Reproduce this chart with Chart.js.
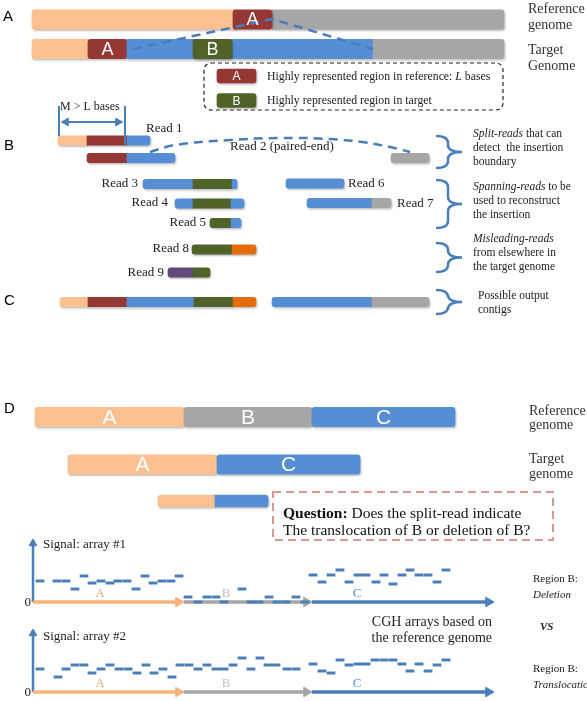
<!DOCTYPE html>
<html>
<head>
<meta charset="utf-8">
<script src="https://cdn.jsdelivr.net/npm/chart.js@4.4.1/dist/chart.umd.min.js"></script>
<style>
  html, body { margin: 0; padding: 0; background: #fff; }
  #wrap { width: 587px; height: 701px; }
</style>
</head>
<body>
<div id="wrap"><canvas id="fig" width="587" height="701"></canvas></div>
<script>
// ---------- data: segments are [start, end, region, label] along the genome axis ----------
const refGenome = [[32, 236, 'flank'], [272, 504, 'tail'], [233, 272, 'A', 'A']];
const targetGenome = [[32, 88, 'flank'], [88, 127, 'A', 'A'], [127, 373, 'ins'], [373, 504, 'tail'], [193, 232, 'B', 'B']];
const legendA = [[217, 256, 'A', 'A']];
const legendB = [[217, 256, 'B', 'B']];

const read1 = [[58, 87, 'flank'], [87, 127, 'A'], [127, 150, 'ins']];
const read2 = [[87, 127, 'A'], [127, 175, 'ins']];
const read2Mate = [[391, 429, 'tail']];
const read3 = [[143, 193, 'ins'], [193, 232, 'B'], [232, 237, 'ins']];
const read4 = [[175, 193, 'ins'], [193, 231, 'B'], [231, 244, 'ins']];
const read5 = [[210, 231, 'B'], [231, 241, 'ins']];
const read6 = [[286, 344, 'ins']];
const read7 = [[307, 372, 'ins'], [372, 391, 'tail']];
const read8 = [[192, 232, 'B'], [232, 256, 'other']];
const read9 = [[168, 193, 'alt'], [193, 210, 'B']];
const contigLeft = [[60, 88, 'flank'], [88, 127, 'A'], [127, 194, 'ins'], [194, 233, 'B'], [233, 256, 'other']];
const contigRight = [[272, 372, 'ins'], [372, 429, 'tail']];

const dRefGenome = [[35, 184, 'flank', 'A'], [184, 312, 'tail', 'B'], [312, 455, 'ins', 'C']];
const dTargetGenome = [[68, 217, 'flank', 'A'], [217, 360, 'ins', 'C']];
const dSplitRead = [[158, 215, 'flank'], [215, 268, 'ins']];

// CGH probes: position along the reference and signal level
const array1X = [40, 57, 66, 75, 84, 92, 101, 110, 118, 127, 136, 145, 153, 162, 171, 179,
  188, 198, 207, 216, 224, 242, 251, 259, 269, 277, 286, 296, 305,
  313, 322, 331, 340, 349, 358, 366, 376, 384, 393, 402, 410, 419, 428, 437, 446];
const array1Y = [581, 581, 581, 589, 576, 583, 581, 583, 581, 581, 589, 576, 583, 581, 581, 576,
  597, 602, 597, 597, 602, 589, 602, 602, 597, 602, 602, 597, 602,
  575, 582, 575, 570, 582, 575, 575, 582, 575, 584, 575, 570, 575, 575, 582, 570];
const array2X = [40, 58, 66, 75, 84, 92, 101, 110, 119, 128, 137, 146, 154, 163, 172, 180,
  189, 198, 207, 216, 224, 233, 242, 251, 260, 268, 276, 287, 296,
  313, 322, 331, 340, 349, 358, 366, 375, 384, 393, 402, 410, 419, 428, 437, 446];
const array2Y = [669, 677, 669, 665, 665, 673, 669, 665, 669, 669, 673, 665, 673, 669, 677, 665,
  665, 669, 665, 669, 669, 665, 658, 669, 658, 665, 665, 669, 669,
  664, 671, 673, 660, 665, 664, 664, 660, 660, 660, 664, 671, 664, 671, 665, 660];

// genome axes under each array: [start, tip, region]
const axisSegments = [[33, 184, 'flank'], [184, 312, 'tail'], [312, 494, 'ins']];

// dashed connectors
const insertionTent = [{x: 133, y: 49}, {x: 272, y: 19}, {x: 373, y: 49}];
const pairedArc = [{x: 150, y: 152}, {x: 175, y: 145}, {x: 230, y: 140}, {x: 280, y: 138},
  {x: 330, y: 139}, {x: 362, y: 142}, {x: 390, y: 147}, {x: 410, y: 152}];

// braces on the right: [top, bottom]
const braces = [[136, 168], [180, 228], [243, 272], [290, 314]];

// ---------- styles / layout ----------
const W = 587, H = 701;
const SERIF = '"Liberation Serif", "Times New Roman", serif';
const SANS = '"Liberation Sans", Arial, sans-serif';
const COLORS = {
  flank: '#FAC090', A: '#953735', tail: '#A6A6A6', ins: '#558ED5',
  B: '#4F6228', other: '#E46C0A', alt: '#604A7B'
};
const AXIS_COLORS = { flank: '#F7B27A', tail: '#A6A6A6', ins: '#4A7EBB' };
const LINE_BLUE = '#4A7EBB';

const rows = [
  { segs: refGenome, y: 19.5, axis: 'yBig' },
  { segs: targetGenome, y: 49, axis: 'yBig' },
  { segs: dRefGenome, y: 417, axis: 'yBig' },
  { segs: dTargetGenome, y: 464.5, axis: 'yBig' },
  { segs: legendA, y: 76, axis: 'ySwatch' },
  { segs: legendB, y: 100.5, axis: 'ySwatch' },
  { segs: read1, y: 140.5, axis: 'yRead' },
  { segs: read2, y: 158, axis: 'yRead' },
  { segs: read2Mate, y: 158, axis: 'yRead' },
  { segs: read3, y: 184, axis: 'yRead' },
  { segs: read4, y: 203.5, axis: 'yRead' },
  { segs: read5, y: 223, axis: 'yRead' },
  { segs: read6, y: 183.5, axis: 'yRead' },
  { segs: read7, y: 203, axis: 'yRead' },
  { segs: read8, y: 249.5, axis: 'yRead' },
  { segs: read9, y: 272.5, axis: 'yRead' },
  { segs: contigLeft, y: 302, axis: 'yRead' },
  { segs: contigRight, y: 302, axis: 'yRead' },
  { segs: dSplitRead, y: 501, axis: 'ySplit' }
];
const THICKNESS = { yBig: 19.5, ySwatch: 14, yRead: 9.5, ySplit: 12 };
const R = 3;

function barDataset(axis) {
  const data = [], colors = [], radii = [];
  rows.filter(r => r.axis === axis).forEach(row => {
    const lo = Math.min(...row.segs.map(s => s[0]));
    const hi = Math.max(...row.segs.map(s => s[1]));
    row.segs.forEach(([a, b, region, label]) => {
      data.push({ x: [a, b], y: row.y });
      colors.push(COLORS[region]);
      const left = (a === lo || label) ? R : 0;
      const right = (b === hi || label) ? R : 0;
      radii.push({ topLeft: left, bottomLeft: left, topRight: right, bottomRight: right });
    });
  });
  return {
    type: 'bar', indexAxis: 'y', xAxisID: 'x', yAxisID: axis, data,
    backgroundColor: colors, borderWidth: 0, borderSkipped: false,
    borderRadius: c => radii[c.dataIndex], barThickness: THICKNESS[axis], order: 5
  };
}

function lineDataset(points, color, width, extra) {
  return Object.assign({
    type: 'line', data: points, xAxisID: 'x', yAxisID: 'y',
    borderColor: color, backgroundColor: color, borderWidth: width,
    pointRadius: 0, tension: 0, fill: false, order: 2
  }, extra || {});
}

function arrowDataset(x0, y0, x1, y1, color, width, head, rotation) {
  // head sits just behind the tip
  const len = Math.hypot(x1 - x0, y1 - y0);
  const ux = (x1 - x0) / len, uy = (y1 - y0) / len;
  return lineDataset([{x: x0, y: y0}, {x: x1 - ux * head, y: y1 - uy * head}], color, width, {
    pointRadius: [0, head], pointStyle: 'triangle', pointRotation: rotation,
    pointBackgroundColor: color, pointBorderColor: color, pointBorderWidth: 1, order: 3
  });
}

const datasets = [
  barDataset('yBig'), barDataset('ySwatch'), barDataset('yRead'), barDataset('ySplit'),
  lineDataset(insertionTent, LINE_BLUE, 2.5, { borderDash: [9, 6] }),
  lineDataset(pairedArc, LINE_BLUE, 2.5, { borderDash: [9, 6], tension: 0.4 }),
  // M > L bracket
  lineDataset([{x: 59, y: 106}, {x: 59, y: 136}], LINE_BLUE, 2),
  lineDataset([{x: 125, y: 106}, {x: 125, y: 145}], LINE_BLUE, 2),
  lineDataset([{x: 66, y: 122}, {x: 118, y: 122}], LINE_BLUE, 2.2, {
    pointRadius: 4.5, pointStyle: 'triangle', pointRotation: [270, 90],
    pointBackgroundColor: LINE_BLUE, pointBorderColor: LINE_BLUE, pointBorderWidth: 1
  })
];

[602, 692].forEach(yAxis => {
  axisSegments.forEach(([a, b, region]) => {
    datasets.push(arrowDataset(a, yAxis, b, yAxis, AXIS_COLORS[region], 3.5, 5.5, 90));
  });
  datasets.push(arrowDataset(33, yAxis, 33, yAxis - 63, LINE_BLUE, 2.5, 4.5, 0));
});

[[array1X, array1Y], [array2X, array2Y]].forEach(([xs, ys]) => {
  datasets.push({
    type: 'scatter', xAxisID: 'x', yAxisID: 'y',
    data: xs.map((x, i) => ({ x, y: ys[i] })),
    pointStyle: 'line', pointRadius: 4.4, pointBorderWidth: 3,
    pointBorderColor: LINE_BLUE, pointBackgroundColor: LINE_BLUE, borderColor: LINE_BLUE,
    showLine: false, order: 1
  });
});

// ---------- text ----------
// [runs, x, baseline y, size, color, align, family]
const texts = [
  [['A'], 3, 21, 15, '#000', 'left', SANS],
  [['B'], 4, 150, 15, '#000', 'left', SANS],
  [['C'], 4, 305, 15, '#000', 'left', SANS],
  [['D'], 4, 413, 15, '#000', 'left', SANS],
  [['Reference'], 528, 13, 14, '#333'],
  [['genome'], 528, 29, 14, '#333'],
  [['Target'], 528, 54, 14, '#333'],
  [['Genome'], 528, 70, 14, '#333'],
  [['Highly represented region in reference: ', ['L', 'italic'], ' bases'], 267, 80, 11.8, '#222'],
  [['Highly represented region in target'], 267, 104, 11.8, '#222'],
  [['M > L bases'], 60, 110, 12, '#222'],
  [['Read 1'], 146, 132, 13, '#222'],
  [['Read 2 (paired-end)'], 230, 150, 13, '#222'],
  [['Read 3'], 138, 187, 13, '#222', 'right'],
  [['Read 4'], 168, 206, 13, '#222', 'right'],
  [['Read 5'], 206, 226, 13, '#222', 'right'],
  [['Read 6'], 348, 187, 13, '#222'],
  [['Read 7'], 397, 207, 13, '#222'],
  [['Read 8'], 189, 252, 13, '#222', 'right'],
  [['Read 9'], 164, 276, 13, '#222', 'right'],
  [[['Split-reads', 'italic'], ' that can'], 473, 137, 11.5, '#222'],
  [['detect  the insertion'], 473, 151, 11.5, '#222'],
  [['boundary'], 473, 165, 11.5, '#222'],
  [[['Spanning-reads', 'italic'], ' to be'], 473, 190, 11.5, '#222'],
  [['used to reconstruct'], 473, 204, 11.5, '#222'],
  [['the insertion'], 473, 218, 11.5, '#222'],
  [[['Misleading-reads', 'italic']], 473, 242, 11.5, '#222'],
  [['from elsewhere in'], 473, 256, 11.5, '#222'],
  [['the target genome'], 473, 270, 11.5, '#222'],
  [['Possible output'], 478, 299, 11.5, '#222'],
  [['contigs'], 478, 313, 11.5, '#222'],
  [['Reference'], 529, 415, 14, '#333'],
  [['genome'], 529, 429, 14, '#333'],
  [['Target'], 529, 463, 14, '#333'],
  [['genome'], 529, 478, 14, '#333'],
  [[['Question:', 'bold'], ' Does the split-read indicate'], 283, 518, 15.5, '#111'],
  [['The translocation of B or deletion of B?'], 283, 535, 15.5, '#111'],
  [['Signal: array #1'], 43, 548, 13, '#222'],
  [['Signal: array #2'], 43, 640, 13, '#222'],
  [['0'], 31, 606, 13, '#222', 'right'],
  [['0'], 31, 696, 13, '#222', 'right'],
  [['A'], 100, 597, 13, '#F0A66E', 'center'],
  [['B'], 226, 597, 13, '#BFBFBF', 'center'],
  [['C'], 357, 597, 13, '#558ED5', 'center'],
  [['A'], 100, 687, 13, '#F0A66E', 'center'],
  [['B'], 226, 687, 13, '#BFBFBF', 'center'],
  [['C'], 357, 687, 13, '#558ED5', 'center'],
  [['CGH arrays based on'], 492, 626, 14, '#222', 'right'],
  [['the reference genome'], 492, 642, 14, '#222', 'right'],
  [['Region B:'], 533, 582, 11, '#222'],
  [[['Deletion', 'italic']], 533, 598, 11, '#222'],
  [[['VS', 'bold italic']], 540, 630, 11, '#222'],
  [['Region B:'], 533, 672, 11, '#222'],
  [[['Translocation', 'italic']], 533, 688, 11, '#222']
];

function drawRuns(ctx, runs, x, y, size, color, align, family) {
  const parts = runs.map(r => Array.isArray(r) ? r : [r, '']);
  const fontOf = st => `${st} ${size}px ${family || SERIF}`.trim();
  let total = 0;
  parts.forEach(([t, st]) => { ctx.font = fontOf(st); total += ctx.measureText(t).width; });
  let cx = align === 'right' ? x - total : align === 'center' ? x - total / 2 : x;
  ctx.fillStyle = color;
  ctx.textAlign = 'left';
  ctx.textBaseline = 'alphabetic';
  parts.forEach(([t, st]) => {
    ctx.font = fontOf(st);
    ctx.fillText(t, cx, y);
    cx += ctx.measureText(t).width;
  });
}

const shadowPlugin = {
  id: 'barShadow',
  beforeDatasetDraw(chart, args) {
    if (args.meta.type !== 'bar') return;
    const ctx = chart.ctx;
    ctx.save();
    ctx.shadowColor = 'rgba(0,0,0,0.25)';
    ctx.shadowBlur = 2;
    ctx.shadowOffsetX = 1;
    ctx.shadowOffsetY = 1.5;
  },
  afterDatasetDraw(chart, args) {
    if (args.meta.type === 'bar') chart.ctx.restore();
  }
};

const figurePlugin = {
  id: 'figure',
  afterDatasetsDraw(chart) {
    const ctx = chart.ctx;
    const sx = chart.scales.x, sy = chart.scales.y;
    const px = v => sx.getPixelForValue(v), py = v => sy.getPixelForValue(v);
    ctx.save();

    // legend box
    ctx.strokeStyle = '#222';
    ctx.lineWidth = 1.2;
    ctx.setLineDash([4, 3]);
    ctx.beginPath();
    ctx.roundRect(px(204), py(63), px(503) - px(204), py(110) - py(63), 7);
    ctx.stroke();

    // question box
    ctx.strokeStyle = '#D99694';
    ctx.lineWidth = 2;
    ctx.setLineDash([8, 5]);
    ctx.strokeRect(px(273), py(492), px(553) - px(273), py(540) - py(492));
    ctx.setLineDash([]);

    // braces
    ctx.strokeStyle = LINE_BLUE;
    ctx.lineWidth = 2.5;
    braces.forEach(([t, b]) => {
      const x0 = px(436), xb = px(448), xt = px(462), r = 7;
      const top = py(t), bot = py(b), mid = (top + bot) / 2;
      ctx.beginPath();
      ctx.moveTo(x0, top);
      ctx.quadraticCurveTo(xb, top, xb, top + r);
      ctx.lineTo(xb, mid - r);
      ctx.quadraticCurveTo(xb, mid, xt, mid);
      ctx.quadraticCurveTo(xb, mid, xb, mid + r);
      ctx.lineTo(xb, bot - r);
      ctx.quadraticCurveTo(xb, bot, x0, bot);
      ctx.stroke();
    });

    // white letters on labelled segments
    rows.forEach(row => row.segs.forEach(([a, b, region, label]) => {
      if (!label) return;
      const size = row.axis === 'ySwatch' ? 12 : (row.y > 400 ? 21 : 18);
      ctx.font = `${size}px ${SANS}`;
      ctx.fillStyle = '#fff';
      ctx.textAlign = 'center';
      ctx.textBaseline = 'middle';
      ctx.fillText(label, (px(a) + px(b)) / 2, py(row.y) + 1);
    }));

    texts.forEach(([runs, x, y, size, color, align, family]) =>
      drawRuns(ctx, runs, px(x), py(y), size, color, align, family));
    ctx.restore();
  }
};

const pageAxis = { type: 'linear', min: 0, max: H, reverse: true, display: false, offset: false };
new Chart(document.getElementById('fig'), {
  type: 'bar',
  data: { datasets },
  options: {
    responsive: false,
    animation: false,
    devicePixelRatio: 1,
    events: [],
    layout: { autoPadding: false, padding: 0 },
    plugins: { legend: { display: false }, tooltip: { enabled: false } },
    scales: {
      x: { type: 'linear', min: 0, max: W, display: false, offset: false },
      y: pageAxis, yBig: pageAxis, ySwatch: pageAxis, yRead: pageAxis, ySplit: pageAxis
    }
  },
  plugins: [shadowPlugin, figurePlugin]
});
</script>
</body>
</html>
